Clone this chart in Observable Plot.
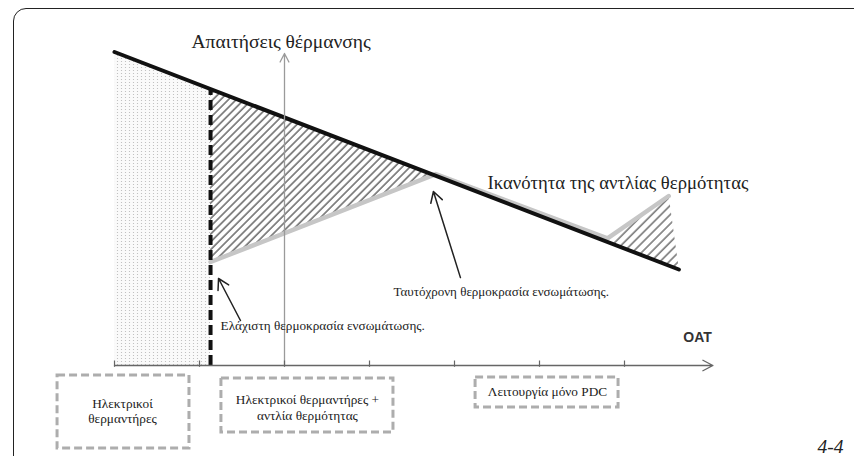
<!DOCTYPE html>
<html>
<head>
<meta charset="utf-8">
<script src="https://cdn.jsdelivr.net/npm/d3@7"></script>
<script src="https://cdn.jsdelivr.net/npm/@observablehq/plot@0.6"></script>
<style>
  html, body { margin: 0; padding: 0; background: #fff; width: 854px; height: 456px; overflow: hidden; }
  #wrap { position: relative; width: 854px; height: 456px; }
  #frame { position: absolute; left: 13px; top: 8px; width: 860px; height: 470px;
           border: 1.5px solid #222; border-radius: 13px; box-sizing: border-box; pointer-events: none; }
  #chart { position: absolute; left: 0; top: 0; }
  #chart svg text { font-family: "Liberation Serif", "Times New Roman", serif; }
  #chart svg g.sans text { font-family: "Liberation Sans", Arial, sans-serif; }
</style>
</head>
<body>
<div id="wrap"><div id="chart"></div><div id="frame"></div></div>
<script>
// ---- data (OAT in °C, heating demand / capacity in kW) ----
const oatTicks = [-10, -5, 0, 5, 10, 15, 20];
const demandOAT = [-10, 23.2];
const demandKW = [10.45, 3.2];
const hpOAT = [-4.35, 8.9, 19, 22.6];
const hpKW = [3.45, 6.38, 4.24, 5.65];
const minOAT = -4.35;      // Ελάχιστη θερμοκρασία ενσωμάτωσης
const balanceOAT = 8.9;    // Ταυτόχρονη θερμοκρασία ενσωμάτωσης
const axisEndOAT = 25.2;
const axisTopKW = 10.4;
const zoneNames = ["Ηλεκτρικοί\nθερμαντήρες", "Ηλεκτρικοί θερμαντήρες +\nαντλία θερμότητας", "Λειτουργία μόνο PDC"];
const zoneOAT1 = [-13.35, -3.71, 11.24];
const zoneOAT2 = [-5.59, 6.41, 19.65];
const zoneKW1 = [-0.33, -0.43, -0.4];
const zoneKW2 = [-2.77, -2.23, -1.4];
const zoneTextOAT = [-9.53, 1.35, 15.47];
const zoneTextKW = [-1.93, -1.8, -1.03];

// derived helpers
const demandAt = t => demandKW[0] + (t - demandOAT[0]) * (demandKW[1] - demandKW[0]) / (demandOAT[1] - demandOAT[0]);
const hpAt = t => { for (let i = 1; i < hpOAT.length; i++) if (t <= hpOAT[i]) return hpKW[i-1] + (t - hpOAT[i-1]) * (hpKW[i] - hpKW[i-1]) / (hpOAT[i] - hpOAT[i-1]); return hpKW[hpKW.length-1]; };

const demandLine = demandOAT.map((t, i) => ({t, kw: demandKW[i]}));
const hpLine = hpOAT.map((t, i) => ({t, kw: hpKW[i]}));
const electricZone = [demandOAT[0], minOAT].map(t => ({t, top: demandAt(t)}));
const hatch1 = [minOAT, balanceOAT].map(t => ({t, lo: hpAt(t), hi: demandAt(t)}));
const hatch2 = [{t: hpOAT[2], kw: demandAt(hpOAT[2])}, {t: hpOAT[3], kw: hpKW[3]}, {t: demandOAT[1], kw: demandKW[1]}];
const zones = zoneNames.map((name, i) => ({name, x1: zoneOAT1[i], x2: zoneOAT2[i], y1: zoneKW1[i], y2: zoneKW2[i], tx: zoneTextOAT[i], ty: zoneTextKW[i]}));

const serif = "Liberation Serif";

const chart = Plot.plot({
  width: 854, height: 456,
  marginTop: 0, marginRight: 0, marginBottom: 0, marginLeft: 0,
  x: {domain: [-284/17, 570/17], axis: null},
  y: {domain: [-91/30, 365/30], axis: null},
  style: {background: "transparent"},
  marks: [
    Plot.areaY(electricZone, {x: "t", y1: 0, y2: "top", fill: "url(#dots)"}),
    Plot.areaY(hatch1, {x: "t", y1: "lo", y2: "hi", fill: "url(#hatch)"}),
    Plot.line(hatch2, {x: "t", y: "kw", fill: "url(#hatch2)", stroke: "none"}),
    Plot.line(hpLine, {x: "t", y: "kw", stroke: "#c6c6c6", strokeWidth: 4.5, strokeLinejoin: "round", strokeLinecap: "round"}),
    Plot.line(demandLine, {x: "t", y: "kw", stroke: "#111", strokeWidth: 4, strokeLinecap: "round"}),
    Plot.ruleX([minOAT], {x: d => d, y1: 0, y2: demandAt(minOAT), stroke: "#111", strokeWidth: 4, strokeDasharray: "10,5"}),
    Plot.arrow([{x1: 0, y1: 0, x2: 0, y2: axisTopKW}], {x1: "x1", y1: "y1", x2: "x2", y2: "y2", stroke: "#9a9a9a", strokeWidth: 1.3, headLength: 11, headAngle: 55}),
    Plot.arrow([{x1: demandOAT[0], y1: 0, x2: axisEndOAT, y2: 0}], {x1: "x1", y1: "y1", x2: "x2", y2: "y2", stroke: "#666", strokeWidth: 1.3, headLength: 13, headAngle: 55}),
    Plot.ruleX(oatTicks, {x: d => d, y1: 0.15, y2: -0.06, stroke: "#666", strokeWidth: 1.2}),
    Plot.arrow([{x1: -2.59, y1: 1.5, x2: -3.88, y2: 2.9}, {x1: 10.35, y1: 2.93, x2: 8.76, y2: 5.8}],
      {x1: "x1", y1: "y1", x2: "x2", y2: "y2", stroke: "#222", strokeWidth: 1.5, headLength: 12, headAngle: 60}),
    Plot.text(["Απαιτήσεις θέρμανσης"], {x: -0.2, y: 10.6, text: d => d, fontSize: 19.5, fontFamily: serif, fill: "#222", lineAnchor: "bottom", textAnchor: "middle"}),
    Plot.text(["Ικανότητα της αντλίας θερμότητας"], {x: 11.94, y: 5.9, text: d => d, fontSize: 18.7, fontFamily: serif, fill: "#222", lineAnchor: "bottom", textAnchor: "start"}),
    Plot.text(["Ταυτόχρονη θερμοκρασία ενσωμάτωσης."], {x: 6.41, y: 2.33, text: d => d, fontSize: 13, fontFamily: serif, fill: "#222", lineAnchor: "bottom", textAnchor: "start"}),
    Plot.text(["Ελάχιστη θερμοκρασία ενσωμάτωσης."], {x: -3.76, y: 1.17, text: d => d, fontSize: 13.2, fontFamily: serif, fill: "#222", lineAnchor: "bottom", textAnchor: "start"}),
    Plot.text(["OAT"], {x: 24.3, y: 0.77, text: d => d, fontSize: 14, fontWeight: "bold", fontFamily: "Liberation Sans", className: "sans", fill: "#333", lineAnchor: "bottom", textAnchor: "middle"}),
    Plot.rect(zones, {x1: "x1", x2: "x2", y1: "y1", y2: "y2", fill: "white", stroke: "#adadad", strokeWidth: 3, strokeDasharray: "8,4"}),
    Plot.text(zones, {x: "tx", y: "ty", text: "name", fontSize: 13.3, fontFamily: serif, fill: "#222", lineAnchor: "bottom", textAnchor: "middle", lineHeight: 1.18}),
    Plot.text(["4-4"], {x: 31.35, y: -2.93, text: d => d, fontSize: 19.5, fontFamily: serif, fontStyle: "italic", fill: "#222", lineAnchor: "bottom", textAnchor: "start"})
  ]
});

d3.select(chart).insert("defs", ":first-child").html(`
  <pattern id="dots" patternUnits="userSpaceOnUse" width="4" height="3">
    <rect width="4" height="3" fill="#fafafa"/>
    <circle cx="1.5" cy="1.5" r="0.6" fill="#b8b8b8"/>
  </pattern>
  <pattern id="hatch" patternUnits="userSpaceOnUse" width="5.5" height="5.5" patternTransform="rotate(45)">
    <line x1="1" y1="0" x2="1" y2="5.5" stroke="#707070" stroke-width="1.6"/>
  </pattern>
  <pattern id="hatch2" patternUnits="userSpaceOnUse" width="6.5" height="6.5" patternTransform="rotate(45)">
    <line x1="1" y1="0" x2="1" y2="6.5" stroke="#7a7a7a" stroke-width="1.6"/>
  </pattern>
`);
document.getElementById("chart").appendChild(chart);
</script>
</body>
</html>
